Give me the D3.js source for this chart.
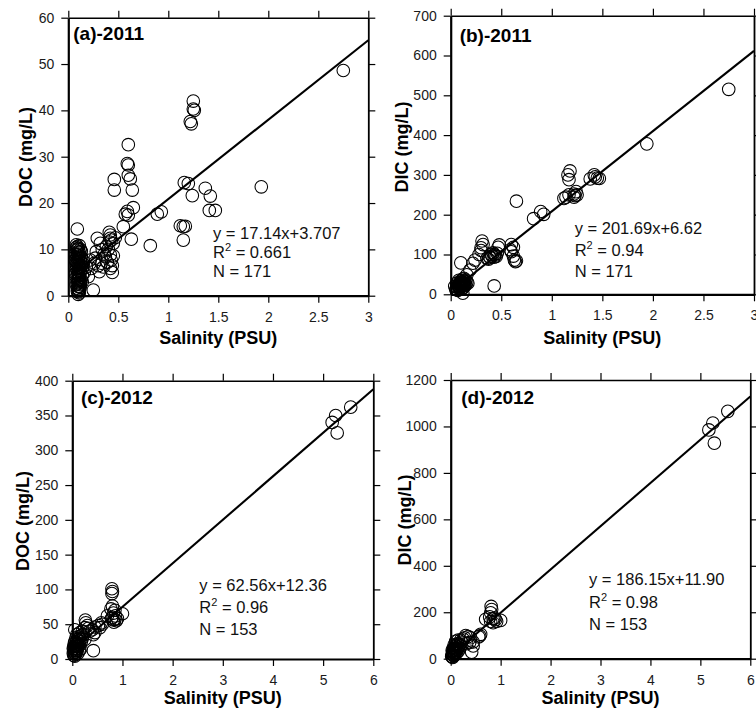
<!DOCTYPE html>
<html>
<head>
<meta charset="utf-8">
<script src="https://cdn.jsdelivr.net/npm/d3@7"></script>
<style>
  html, body { margin: 0; padding: 0; background: #fff; }
  svg { display: block; font-family: Arial, "Liberation Sans", sans-serif; }
  .domain { stroke: #000; }
  .tick line { stroke: #000; stroke-width: 1.2; }
  .tick text { font-size: 14px; fill: #1a1a1a; }
</style>
</head>
<body>
<svg id="chart" width="756" height="708"></svg>
<script>
// ---- Data: salinity (PSU) vs. carbon concentration (mg/L) ----
const docPoints2011 = [
  [2.75,48.6],[1.93,23.5],
  [1.25,42.0],[1.25,40.3],[1.26,40.0],[1.22,37.6],[1.23,37.1],
  [1.16,24.4],[1.20,24.2],[1.24,21.6],
  [1.37,23.2],[1.42,21.5],[1.41,18.4],[1.47,18.4],
  [1.12,15.1],[1.15,14.9],[1.17,15.0],[1.15,12.0],
  [0.89,17.6],[0.93,18.1],[0.82,10.8],
  [0.60,32.6],[0.59,28.5],[0.60,28.2],[0.60,26.0],[0.62,25.2],[0.64,22.8],
  [0.46,25.1],[0.46,22.8],
  [0.65,19.0],[0.57,17.6],[0.59,18.2],[0.60,17.4],[0.55,14.9],[0.63,12.2],
  [0.09,14.4],[0.29,12.4],[0.25,1.2],
  [0.41,13.7],[0.42,13.1],[0.42,12.4],[0.43,12.0],[0.41,11.6],[0.45,11.3],[0.32,11.3],
  [0.38,10.6],[0.34,9.9],[0.28,9.5],[0.42,8.8],[0.37,8.4],[0.27,8.1],[0.43,7.7],
  [0.22,7.7],[0.42,5.9],[0.23,5.9],[0.31,5.2],[0.20,4.1],[0.44,6.5],[0.45,8.6],
  [0.44,5.0],[0.33,7.0],[0.36,9.0],[0.39,7.2],[0.30,6.5],[0.47,12.5],[0.40,10.0],
  [0.35,6.2],[0.18,6.2],[0.15,7.5],[0.26,7.0],
  [0.08,11.0],[0.09,10.6],[0.10,10.2],[0.08,9.8],[0.09,9.4],[0.10,9.0],[0.11,8.6],
  [0.08,8.2],[0.10,7.8],[0.12,7.4],[0.09,7.0],[0.10,6.6],[0.11,6.2],[0.08,5.8],
  [0.10,5.4],[0.12,5.0],[0.09,4.6],[0.11,4.2],[0.10,3.8],[0.13,3.5],[0.09,3.2],
  [0.10,2.8],[0.12,2.4],[0.10,2.0],[0.09,1.6],[0.11,1.2],[0.10,0.8],[0.10,0.3],
  [0.14,5.8],[0.15,6.8],[0.14,3.0],[0.07,4.8],[0.08,6.6],[0.07,9.0],[0.13,9.6],
  [0.12,1.8],[0.11,10.8],[0.12,8.0],[0.13,6.4],[0.07,7.6],[0.14,4.4],[0.08,2.4],
  [0.11,3.6],[0.09,8.8],[0.12,10.0],[0.13,7.0],[0.10,4.8],[0.16,5.0],
  [0.09,10.0],[0.11,9.4],[0.10,8.2],[0.09,7.4],[0.11,6.8],[0.10,6.0],[0.09,5.2],
  [0.11,4.4],[0.10,3.4],[0.09,2.6],[0.11,2.0],[0.10,1.4],[0.12,6.0],[0.08,4.0],
  [0.12,3.2],[0.08,7.2],[0.13,8.4],[0.09,1.0],[0.11,0.6],[0.08,10.4]
];

const dicPoints2011 = [
  [2.75,515],[1.94,378],
  [1.42,300],[1.45,292],[1.38,290],[1.43,295],[1.47,291],
  [1.18,310],[1.16,300],[1.17,288],
  [1.12,241],[1.14,244],[1.17,250],[1.22,252],[1.23,248],[1.24,258],[1.22,244],[1.25,250],
  [0.89,208],[0.92,201],[0.82,190],
  [0.65,234],
  [0.60,125],[0.62,118],[0.60,107],[0.62,96],[0.63,86],[0.65,84],[0.64,82],[0.59,112],
  [0.48,124],[0.47,118],[0.46,103],[0.43,100],[0.41,96],[0.39,92],[0.44,98],[0.375,88],
  [0.42,104],[0.36,90],[0.45,95],[0.40,100],[0.38,95],[0.43,93],
  [0.31,134],[0.32,125],[0.30,117],[0.30,110],[0.28,100],
  [0.24,86],[0.22,78],[0.19,61],[0.16,49],[0.13,40],
  [0.10,79],[0.43,21],[0.12,3],
  [0.05,12],[0.06,18],[0.07,22],[0.08,26],[0.09,30],[0.10,34],[0.11,20],[0.12,25],
  [0.13,28],[0.14,32],[0.15,24],[0.16,30],[0.07,10],[0.09,15],[0.11,14],[0.13,18],
  [0.08,35],[0.12,38],[0.10,27],[0.14,22],[0.06,28],[0.10,20],[0.12,16],[0.09,24],
  [0.11,30],[0.15,36],[0.17,28],[0.04,20],[0.08,16],[0.13,34],
  [0.10,23],[0.12,29],[0.09,19],[0.11,26],[0.13,22],[0.08,21],[0.14,27],[0.10,31]
];

const docPoints2012 = [
  [5.55,362],[5.25,350],[5.18,340],[5.28,325],
  [0.79,101],[0.80,97],[0.79,94],[0.80,76],[0.77,72],[0.82,66],[0.85,70],[1.00,65],[0.70,62],
  [0.80,60],[0.85,57],[0.88,55],[0.83,53],[0.90,58],[0.82,56],[0.86,62],[0.78,58],
  [0.58,52],[0.52,48],[0.60,50],[0.55,45],
  [0.26,56],[0.27,52],[0.30,48],[0.25,45],[0.40,42],[0.45,38],[0.42,35],[0.35,40],
  [0.32,44],[0.45,46],[0.20,40],[0.15,38],[0.18,34],
  [0.42,12],[0.05,42],
  [0.02,8],[0.03,12],[0.04,16],[0.05,10],[0.06,20],[0.07,14],[0.08,24],[0.09,18],
  [0.10,28],[0.11,22],[0.12,32],[0.13,26],[0.14,30],[0.15,20],[0.16,28],[0.18,25],
  [0.20,30],[0.22,35],[0.03,5],[0.05,4],[0.06,7],[0.08,10],[0.10,15],[0.04,22],
  [0.07,30],[0.12,18],[0.02,15],[0.09,35],[0.25,28],[0.17,15],[0.06,12],[0.11,8],[0.14,12],
  [0.04,9],[0.06,15],[0.08,18],[0.05,25],[0.07,20],[0.09,12],[0.03,18],[0.10,22]
];

const dicPoints2012 = [
  [5.55,1065],[5.25,1015],[5.17,985],[5.28,928],
  [0.81,225],[0.82,212],[0.80,198],[0.70,170],[0.85,172],[0.90,168],[1.00,165],[0.85,155],
  [0.80,160],[0.88,175],[0.78,180],[0.92,160],
  [0.60,105],[0.58,98],[0.56,94],
  [0.45,72],[0.42,28],[0.45,55],[0.35,95],[0.30,100],[0.28,90],[0.25,85],[0.20,80],
  [0.15,80],[0.10,75],[0.18,60],[0.22,72],[0.40,90],[0.38,70],[0.32,65],
  [0.02,10],[0.03,20],[0.04,30],[0.05,15],[0.06,40],[0.07,25],[0.08,50],[0.09,35],
  [0.10,55],[0.11,45],[0.12,60],[0.13,40],[0.14,65],[0.15,50],[0.04,5],[0.06,12],
  [0.08,20],[0.05,45],[0.10,30],[0.03,35],[0.12,25],[0.07,60],[0.16,35],[0.18,45],[0.20,55],
  [0.04,18],[0.06,25],[0.05,32],[0.08,38],[0.07,15],[0.09,22],[0.03,8],[0.10,42]
];

// ---- Tick values ----
const salinityTicks2011 = [0, 0.5, 1, 1.5, 2, 2.5, 3];
const salinityTicks2012 = [0, 1, 2, 3, 4, 5, 6];
const docTicks2011 = [0, 10, 20, 30, 40, 50, 60];
const dicTicks2011 = [0, 100, 200, 300, 400, 500, 600, 700];
const docTicks2012 = [0, 50, 100, 150, 200, 250, 300, 350, 400];
const dicTicks2012 = [0, 200, 400, 600, 800, 1000, 1200];

// ---- Linear fits (slope, intercept), R² and sample size ----
const fitSlopes = ["17.14", "201.69", "62.56", "186.15"];
const fitIntercepts = ["3.707", "6.62", "12.36", "11.90"];
const fitR2 = ["0.661", "0.94", "0.96", "0.98"];
const fitN = [171, 171, 153, 153];

// ---- Labels ----
const panelLabels = ["(a)-2011", "(b)-2011", "(c)-2012", "(d)-2012"];
const yTitles = ["DOC (mg/L)", "DIC (mg/L)", "DOC (mg/L)", "DIC (mg/L)"];
const xTitle = "Salinity (PSU)";

// ---- Layout of the four panels ----
const panels = [
  { pts: docPoints2011, xt: salinityTicks2011, yt: docTicks2011,
    box: { l: 68.3, r: 368.3, t: 17.7, b: 295.7 },
    label: [73.3, 40], yTitle: [31.5, 157], xTitleY: 343.5, fitText: [213, 239, 19] },
  { pts: dicPoints2011, xt: salinityTicks2011, yt: dicTicks2011,
    box: { l: 450.7, r: 754, t: 15.7, b: 294.3 },
    label: [459.7, 41.8], yTitle: [408, 147], xTitleY: 343.5, fitText: [574.7, 234, 21.5] },
  { pts: docPoints2012, xt: salinityTicks2012, yt: docTicks2012,
    box: { l: 72.3, r: 373.3, t: 380.7, b: 659 },
    label: [81, 403.8], yTitle: [29.3, 521], xTitleY: 704, fitText: [199.3, 591, 22] },
  { pts: dicPoints2012, xt: salinityTicks2012, yt: dicTicks2012,
    box: { l: 450.7, r: 750.3, t: 380, b: 658.7 },
    label: [461.3, 403.8], yTitle: [411, 520], xTitleY: 704, fitText: [589, 585, 22.5] }
];

const svg = d3.select("#chart");
const fmt = d3.format("~g");

panels.forEach((p, i) => {
  const { l, r, t, b } = p.box;
  const x = d3.scaleLinear().domain(d3.extent(p.xt)).range([l, r]);
  const y = d3.scaleLinear().domain(d3.extent(p.yt)).range([b, t]);
  const g = svg.append("g");

  // Scatter points: open circles
  g.append("g").selectAll("circle").data(p.pts).join("circle")
    .attr("cx", d => x(d[0])).attr("cy", d => y(d[1])).attr("r", 6.3)
    .attr("fill", "none").attr("stroke", "#000").attr("stroke-width", 1.05);

  // Fitted regression line from the smallest salinity to the axis end
  const slope = parseFloat(fitSlopes[i]);
  const icpt = parseFloat(fitIntercepts[i]);
  const x0 = d3.min(p.pts, d => d[0]);
  const x1 = d3.max(p.xt);
  g.append("line")
    .attr("x1", x(x0)).attr("y1", y(slope * x0 + icpt))
    .attr("x2", x(x1)).attr("y2", y(slope * x1 + icpt))
    .attr("stroke", "#000").attr("stroke-width", 2.1);

  // Axes on all four sides, ticks pointing outward
  const bottom = g.append("g").attr("transform", `translate(0,${b})`)
    .call(d3.axisBottom(x).tickValues(p.xt).tickFormat(fmt).tickSize(7).tickPadding(9).tickSizeOuter(0));
  const left = g.append("g").attr("transform", `translate(${l},0)`)
    .call(d3.axisLeft(y).tickValues(p.yt).tickFormat(fmt).tickSize(7).tickPadding(7).tickSizeOuter(0));
  const top = g.append("g").attr("transform", `translate(0,${t})`)
    .call(d3.axisTop(x).tickValues(p.xt).tickFormat("").tickSize(7).tickSizeOuter(0));
  const right = g.append("g").attr("transform", `translate(${r},0)`)
    .call(d3.axisRight(y).tickValues(p.yt).tickFormat("").tickSize(7).tickSizeOuter(0));
  bottom.select(".domain").attr("stroke-width", 2.2);
  left.select(".domain").attr("stroke-width", 2.2);
  top.select(".domain").attr("stroke-width", 1.5);
  right.select(".domain").attr("stroke-width", 1.8);
  g.selectAll("text").attr("font-family", null);
  g.selectAll(".tick text").attr("font-size", null);

  // Panel label
  g.append("text").attr("x", p.label[0]).attr("y", p.label[1])
    .attr("font-size", 19).attr("font-weight", "bold").attr("fill", "#000")
    .text(panelLabels[i]);

  // Axis titles
  g.append("text").attr("x", (l + r) / 2).attr("y", p.xTitleY)
    .attr("text-anchor", "middle").attr("font-size", 18).attr("font-weight", "bold")
    .attr("fill", "#000").text(xTitle);
  g.append("text")
    .attr("transform", `translate(${p.yTitle[0]},${p.yTitle[1]}) rotate(-90)`)
    .attr("text-anchor", "middle").attr("font-size", 18).attr("font-weight", "bold")
    .attr("fill", "#000").text(yTitles[i]);

  // Fit statistics
  const [tx, ty, dy] = p.fitText;
  const ft = g.append("g").attr("font-size", 16.5).attr("fill", "#111");
  ft.append("text").attr("x", tx).attr("y", ty)
    .text(`y = ${fitSlopes[i]}x+${fitIntercepts[i]}`);
  const r2 = ft.append("text").attr("x", tx).attr("y", ty + dy);
  r2.append("tspan").text("R");
  r2.append("tspan").attr("dy", -7).attr("font-size", 11).text("2");
  r2.append("tspan").attr("dy", 7).text(` = ${fitR2[i]}`);
  ft.append("text").attr("x", tx).attr("y", ty + 2 * dy).text(`N = ${fitN[i]}`);
});
</script>
</body>
</html>
